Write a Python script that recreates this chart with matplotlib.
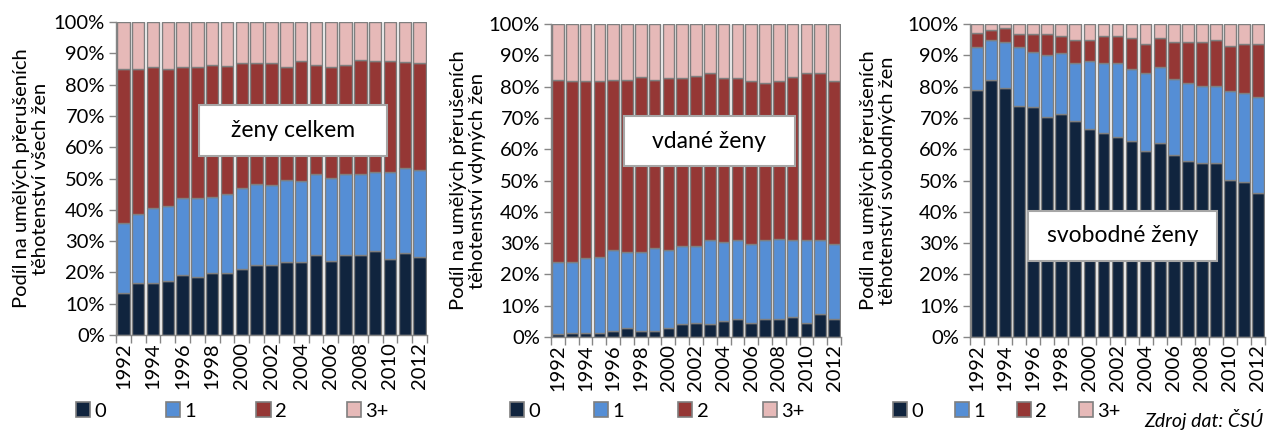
import matplotlib
matplotlib.use("Agg")
import matplotlib.pyplot as plt
from matplotlib.patches import Patch, Rectangle
import numpy as np

plt.rcParams['font.family'] = ['Lato', 'DejaVu Sans']

years = list(range(1992, 2013))
series_labels = ["0", "1", "2", "3+"]
colors = ["#10243e", "#558ed5", "#953735", "#e6b9b8"]
edge = "#7f7f7f"

# Shares (%) of abortions by number of living children, per year
celkem_0 = [13.3, 16.5, 16.5, 17.3, 19.1, 18.6, 19.8, 19.8, 21.1, 22.3, 22.3,
            23.2, 23.2, 25.6, 23.8, 25.6, 25.6, 26.9, 24.4, 26.3, 25.0]
celkem_1 = [22.6, 22.0, 24.0, 23.8, 24.6, 25.1, 24.4, 25.2, 25.8, 26.0, 25.5,
            26.2, 25.9, 25.9, 26.5, 25.9, 25.9, 25.2, 27.7, 27.1, 27.8]
celkem_2 = [49.0, 46.4, 45.0, 43.8, 41.8, 41.8, 42.0, 40.8, 39.9, 38.5, 39.0,
            36.1, 38.4, 34.7, 35.2, 34.7, 36.2, 35.4, 35.4, 33.9, 34.0]
celkem_3 = [15.1, 15.1, 14.5, 15.1, 14.5, 14.5, 13.8, 14.2, 13.2, 13.2, 13.2,
            14.5, 12.5, 13.8, 14.5, 13.8, 12.3, 12.5, 12.5, 12.7, 13.2]

vdane_0 = [0.8, 1.3, 1.3, 1.3, 2.0, 2.8, 2.0, 2.0, 2.8, 4.0, 4.5,
           4.0, 5.1, 5.9, 4.5, 5.9, 5.9, 6.5, 4.5, 7.2, 5.9]
vdane_1 = [23.1, 22.6, 23.9, 24.4, 25.7, 24.4, 25.2, 26.3, 24.9, 25.0, 24.5,
           26.9, 25.4, 25.0, 25.3, 25.0, 25.5, 24.4, 26.4, 23.7, 23.7]
vdane_2 = [58.3, 57.8, 56.5, 56.0, 54.5, 55.0, 55.8, 53.9, 55.1, 53.8, 54.5,
           53.4, 52.3, 51.9, 51.9, 50.2, 50.3, 52.1, 53.4, 53.4, 52.1]
vdane_3 = [17.8, 18.3, 18.3, 18.3, 17.8, 17.8, 17.0, 17.8, 17.2, 17.2, 16.5,
           15.7, 17.2, 17.2, 18.3, 18.9, 18.3, 17.0, 15.7, 15.7, 18.3]

svob_0 = [79.0, 82.2, 79.6, 73.9, 73.4, 70.2, 71.3, 68.9, 66.5, 65.1, 63.8,
          62.5, 59.3, 61.9, 58.1, 56.3, 55.5, 55.5, 50.3, 49.6, 45.9]
svob_1 = [13.5, 12.8, 14.8, 18.6, 17.8, 19.8, 19.3, 18.7, 21.7, 22.5, 23.8,
          23.1, 25.0, 24.4, 24.4, 24.9, 24.8, 24.8, 28.3, 28.3, 30.7]
svob_2 = [4.7, 3.1, 4.3, 4.3, 5.6, 6.8, 5.5, 7.3, 6.7, 8.5, 8.5,
          9.9, 9.3, 9.2, 11.8, 13.1, 14.0, 14.6, 14.3, 15.7, 17.0]
svob_3 = [2.8, 1.9, 1.3, 3.2, 3.2, 3.2, 3.9, 5.1, 5.1, 3.9, 3.9,
          4.5, 6.4, 4.5, 5.7, 5.7, 5.7, 5.1, 7.1, 6.4, 6.4]

panels = [
    dict(data=[celkem_0, celkem_1, celkem_2, celkem_3],
         ylabel="Podíl na umělých přerušeních\ntěhotenství všech žen",
         title="ženy celkem",
         ax_px=(116, 22, 427, 335), ylab_x=31,
         box_px=(199, 105, 387, 156),
         leg_x=76, colspace=3.0),
    dict(data=[vdane_0, vdane_1, vdane_2, vdane_3],
         ylabel="Podíl na umělých přerušeních\ntěhotenství vdyných žen",
         title="vdané ženy",
         ax_px=(551, 24, 841, 337), ylab_x=468,
         box_px=(624, 116, 795, 166),
         leg_x=510, colspace=2.7),
    dict(data=[svob_0, svob_1, svob_2, svob_3],
         ylabel="Podíl na umělých přerušeních\ntěhotenství svobodných žen",
         title="svobodné ženy",
         ax_px=(970, 24, 1265, 337), ylab_x=878,
         box_px=(1028, 211, 1217, 261),
         leg_x=893, colspace=1.6),
]

W, H = 1272, 430
fig = plt.figure(figsize=(W / 100, H / 100), dpi=100)
fs = 14.5

x = np.arange(len(years))
for p in panels:
    l, t, r, b = p["ax_px"]
    ax = fig.add_axes([l / W, 1 - b / H, (r - l) / W, (b - t) / H])
    bottom = np.zeros(len(years))
    for vals, col, lab in zip(p["data"], colors, series_labels):
        v = np.array(vals)
        ax.bar(x, v, bottom=bottom, width=0.84, color=col, edgecolor=edge,
               linewidth=1.0, label=lab)
        bottom += v
    ax.set_xlim(-0.5, len(years) - 0.5)
    ax.set_ylim(0, 100)
    ax.set_yticks(np.arange(0, 101, 10))
    ax.set_yticklabels([f"{v}%" for v in range(0, 101, 10)], fontsize=fs)
    # tick marks at category boundaries, labels at every other year
    ax.set_xticks(np.arange(-0.5, len(years), 1.0))
    ax.set_xticklabels([])
    ax.set_xticks(x[::2], minor=True)
    ax.set_xticklabels([str(y) for y in years[::2]], minor=True,
                       rotation=90, fontsize=fs)
    ax.tick_params(axis="x", which="major", length=6, color="#868686", width=1)
    ax.tick_params(axis="x", which="minor", length=0, pad=5)
    ax.tick_params(axis="y", length=5, color="#868686", width=1, pad=3)
    for s in ("top", "right"):
        ax.spines[s].set_visible(False)
    for s in ("left", "bottom"):
        ax.spines[s].set_color("#868686")
        ax.spines[s].set_linewidth(1)

    fig.text(p["ylab_x"] / W, 1 - ((t + b) / 2) / H, p["ylabel"],
             rotation=90, ha="center", va="center", fontsize=fs,
             linespacing=1.2)

    bx0, by0, bx1, by1 = p["box_px"]
    fig.patches.append(Rectangle((bx0 / W, 1 - by1 / H), (bx1 - bx0) / W,
                                 (by1 - by0) / H, transform=fig.transFigure,
                                 facecolor="white", edgecolor="#a6a6a6",
                                 linewidth=1.5, zorder=5))
    fig.text((bx0 + bx1) / 2 / W, 1 - ((by0 + by1) / 2) / H, p["title"],
             ha="center", va="center", fontsize=16.5, zorder=6)

    handles = [Patch(facecolor=c, edgecolor=edge, linewidth=1.2)
               for c in colors]
    fig.legend(handles, series_labels, loc="center left",
               bbox_to_anchor=(p["leg_x"] / W, 1 - 411 / H), ncol=4,
               frameon=False, fontsize=fs, handlelength=0.7,
               handleheight=0.7, handletextpad=0.2,
               columnspacing=p["colspace"], borderpad=0, borderaxespad=0)

fig.text(1263 / W, 1 - 419 / H, "Zdroj dat: ČSÚ", ha="right", va="center",
         fontsize=14, style="italic")

fig.savefig("out.png", dpi=100)
